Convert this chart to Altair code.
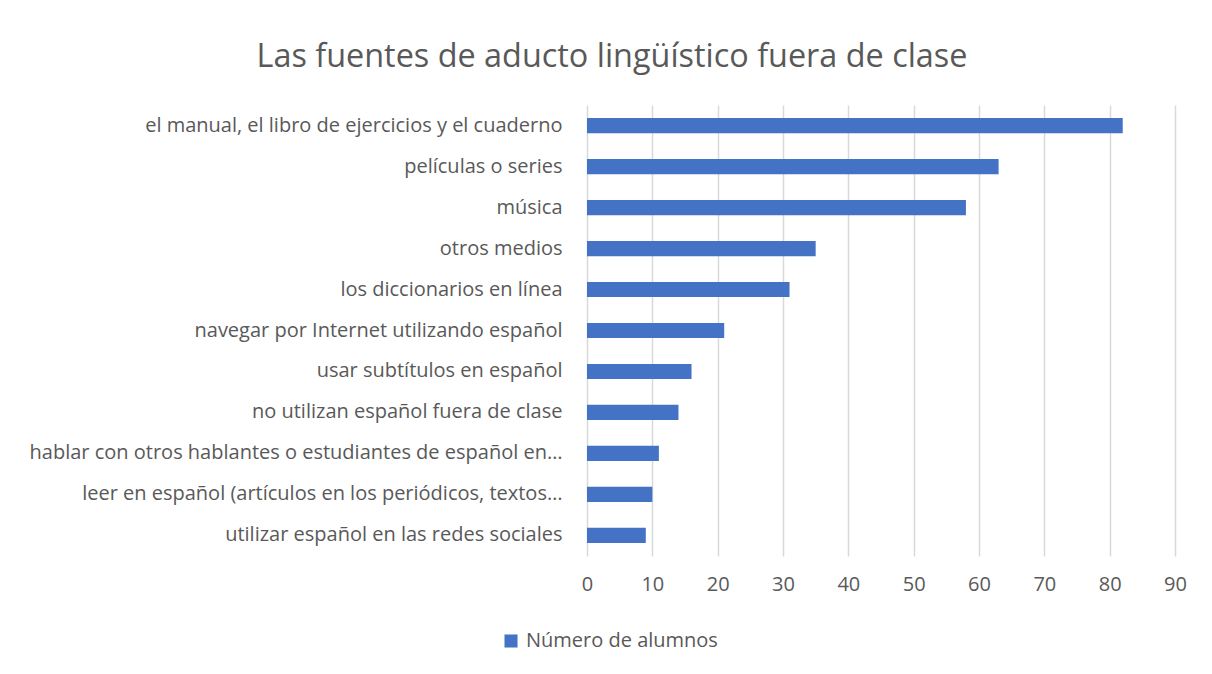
import altair as alt
import pandas as pd

categories = [
    "el manual, el libro de ejercicios y el cuaderno",
    "películas o series",
    "música",
    "otros medios",
    "los diccionarios en línea",
    "navegar por Internet utilizando español",
    "usar subtítulos en español",
    "no utilizan español fuera de clase",
    "hablar con otros hablantes o estudiantes de español en…",
    "leer en español (artículos en los periódicos, textos…",
    "utilizar español en las redes sociales",
]
values = [82, 63, 58, 35, 31, 21, 16, 14, 11, 10, 9]
series_name = "Número de alumnos"
x_ticks = [0, 10, 20, 30, 40, 50, 60, 70, 80, 90]

df = pd.DataFrame({"Fuente": categories, "Valor": values, "Serie": [series_name] * len(values)})

FONT = "Open Sans"
GREY = "#595959"

chart = alt.Chart(df).mark_bar(color="#4472C4").encode(
    y=alt.Y("Fuente:N", sort=categories, title=None,
            scale=alt.Scale(paddingInner=0.63, paddingOuter=0.32),
            axis=alt.Axis(domain=False, ticks=False, labelLimit=0, labelPadding=25,
                          labelFontSize=20, labelColor=GREY, labelFont=FONT)),
    x=alt.X("Valor:Q", title=None, scale=alt.Scale(domain=[0, 90], nice=False),
            axis=alt.Axis(values=x_ticks, domain=False, ticks=False, grid=True,
                          gridColor="#d9d9d9", gridWidth=1.5, labelPadding=18,
                          labelFlush=False,
                          labelFontSize=20, labelColor=GREY, labelFont=FONT)),
    color=alt.Color("Serie:N", scale=alt.Scale(range=["#4472C4"]),
                    legend=alt.Legend(title=None, orient="none", legendX=-86, legendY=526,
                                      symbolType="square", symbolSize=170, labelLimit=0,
                                      labelOffset=5,
                                      labelFontSize=20, labelColor=GREY, labelFont=FONT)),
).properties(
    width=588,
    height=451,
    title=alt.Title("Las fuentes de aducto lingüístico fuera de clase",
                    fontSize=32.4, font=FONT, fontWeight="normal", color=GREY,
                    anchor="middle", frame="group", dx=-269, offset=32),
    autosize=alt.AutoSizeParams(type="none"),
    padding={"left": 579, "top": 97, "right": 29, "bottom": 110},
).configure(background="white").configure_view(strokeWidth=0)

chart.save("out.html", embed_options={"renderer": "svg", "actions": False})
